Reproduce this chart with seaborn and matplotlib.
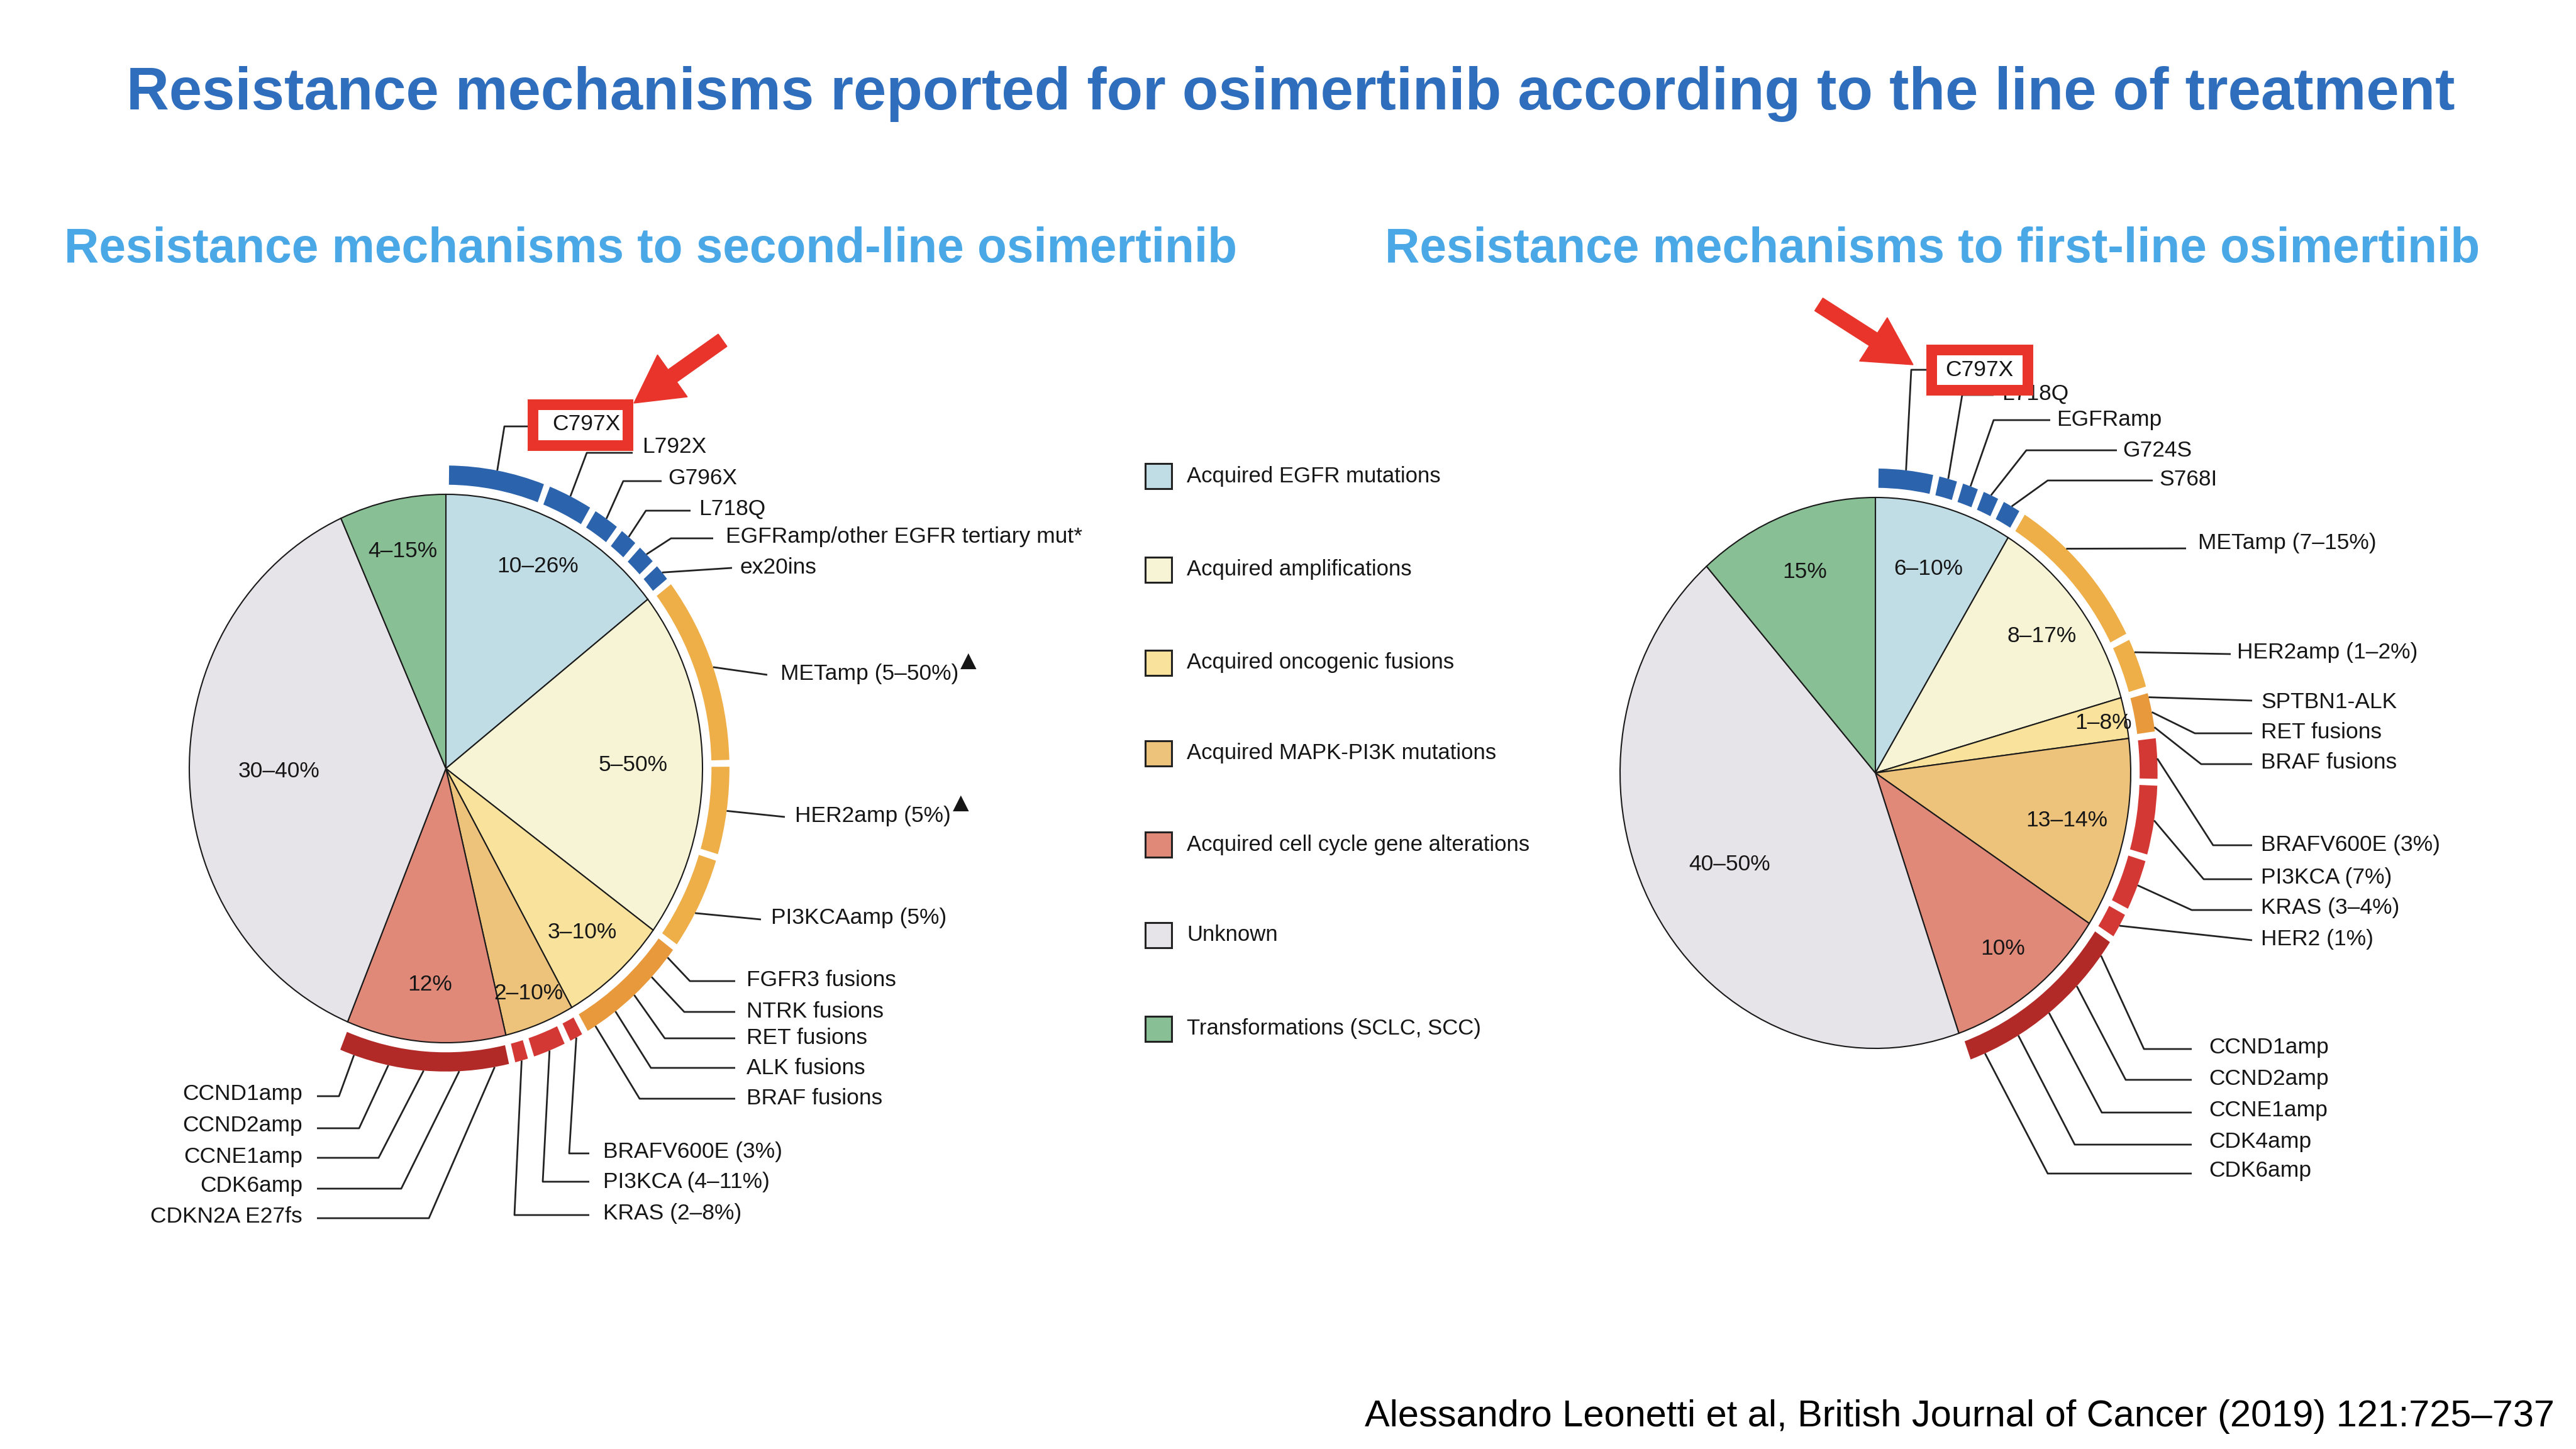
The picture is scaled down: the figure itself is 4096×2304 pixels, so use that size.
import numpy as np
import matplotlib
matplotlib.use("Agg")
import matplotlib.pyplot as plt
from matplotlib.patches import Wedge, Rectangle, FancyArrow
import seaborn as sns

sns.set_theme(style="white")
plt.rcParams["font.family"] = ["Liberation Sans", "DejaVu Sans"]

# %% data
categories = ["Acquired EGFR mutations", "Acquired amplifications", "Acquired oncogenic fusions",
              "Acquired MAPK-PI3K mutations", "Acquired cell cycle gene alterations", "Unknown",
              "Transformations (SCLC, SCC)"]

# slice sizes (share of the circle, %)
second_sizes = [14.4, 20.6, 6.8, 4.4, 10.0, 37.0, 6.7]
first_sizes = [8.7, 11.9, 2.4, 11.2, 10.5, 43.8, 11.5]
second_pct = ["10–26%", "5–50%", "3–10%", "2–10%", "12%", "30–40%", "4–15%"]
first_pct = ["6–10%", "8–17%", "1–8%", "13–14%", "10%", "40–50%", "15%"]

# outer ring, sub-mechanisms inside each category (relative arc length)
second_egfr = ["C797X", "L792X", "G796X", "L718Q", "EGFRamp/other EGFR tertiary mut*", "ex20ins"]
second_egfr_w = [20.8, 10.3, 6.5, 4.8, 4.9, 4.4]
second_amp = ["METamp (5–50%)", "HER2amp (5%)", "PI3KCAamp (5%)"]
second_amp_w = [37, 18, 19]
second_fus = ["FGFR3 fusions", "NTRK fusions", "RET fusions", "ALK fusions", "BRAF fusions"]
second_mapk = ["BRAFV600E (3%)", "PI3KCA (4–11%)", "KRAS (2–8%)"]
second_mapk_w = [4, 8, 4]
second_cell = ["CDKN2A E27fs", "CDK6amp", "CCNE1amp", "CCND2amp", "CCND1amp"]

first_egfr = ["C797X", "L718Q", "EGFRamp", "G724S", "S768I"]
first_egfr_w = [12.5, 5, 4.5, 4.5, 4.9]
first_amp = ["METamp (7–15%)", "HER2amp (1–2%)"]
first_amp_w = [32, 10.7]
first_fus = ["SPTBN1-ALK", "RET fusions", "BRAF fusions"]
first_mapk = ["BRAFV600E (3%)", "PI3KCA (7%)", "KRAS (3–4%)", "HER2 (1%)"]
first_mapk_w = [9, 14.5, 11, 6]
first_cell = ["CCND1amp", "CCND2amp", "CCNE1amp", "CDK4amp", "CDK6amp"]

slice_colors = ["#c0dce5", "#f7f3d5", "#f8e29c", "#edc27b", "#e08979", "#e6e4e8", "#88bf95"]
ring_colors = ["#2b63ac", "#eeae48", "#e8993b", "#d43834", "#b22a28"]

W, H = 4096, 2304
R_IN, R_OUT = 1.035, 1.105
GAP = 1.3
LIM = 1.3
FS = 25.5
TXT = "#161616"

fig = plt.figure(figsize=(W / 100, H / 100), dpi=100)


def draw_pie(cx, cy, rx, ry, sizes, pct, pct_r, rings):
    ax = fig.add_axes([(cx - LIM * rx) / W, 1 - (cy + LIM * ry) / H, 2 * LIM * rx / W, 2 * LIM * ry / H])
    ax.pie(sizes, colors=slice_colors, startangle=90, counterclock=False,
           wedgeprops=dict(edgecolor="#1a1a1a", linewidth=1.5))
    ax.set_xlim(-LIM, LIM)
    ax.set_ylim(-LIM, LIM)
    ax.set_aspect("auto")
    ax.axis("off")
    bounds = np.concatenate([[0], np.cumsum(sizes)]) / sum(sizes) * 360
    for i, lab in enumerate(pct):
        mid = np.deg2rad((bounds[i] + bounds[i + 1]) / 2)
        ax.text(pct_r[i] * np.sin(mid), pct_r[i] * np.cos(mid), lab, ha="center", va="center",
                fontsize=FS, color=TXT)
    spans = {}
    for i, (names, weights, joined) in enumerate(rings):
        a0, a1 = bounds[i], bounds[i + 1]
        w = np.asarray(weights, float)
        edges = a0 + np.concatenate([[0], np.cumsum(w)]) / w.sum() * (a1 - a0)
        segs = [(a0, a1)] if joined else list(zip(edges[:-1], edges[1:]))
        for s0, s1 in segs:
            ax.add_patch(Wedge((0, 0), R_OUT, 90 - (s1 - GAP / 2), 90 - (s0 + GAP / 2),
                               width=R_OUT - R_IN, facecolor=ring_colors[i], edgecolor="none"))
        for k, name in enumerate(names):
            spans[name] = (edges[k], edges[k + 1])
    return spans


def draw_leaders(ov, spans, layout, cx, cy, rx, ry):
    texts = {}
    for name, (frac, pts, txy, ha) in layout.items():
        s0, s1 = spans[name]
        a = np.deg2rad(s0 + frac * (s1 - s0))
        start = (cx + R_OUT * rx * np.sin(a), cy - R_OUT * ry * np.cos(a))
        xs, ys = zip(*([start] + pts))
        ov.plot(xs, ys, color="#222222", lw=2.0, solid_capstyle="butt", zorder=2)
        texts[name] = ov.text(txy[0], txy[1], name, ha=ha, va="center", fontsize=FS, color=TXT, zorder=3)
    return texts


# %% pies
L_CX, L_CY, L_RX, L_RY = 709, 1222, 408, 436
R_CX, R_CY, R_RX, R_RY = 2982, 1229, 406, 438

left_spans = draw_pie(L_CX, L_CY, L_RX, L_RY, second_sizes, second_pct,
                      [0.82, 0.73, 0.80, 0.88, 0.79, 0.65, 0.81],
                      [(second_egfr, second_egfr_w, False), (second_amp, second_amp_w, False),
                       (second_fus, [1] * 5, True), (second_mapk, second_mapk_w, False),
                       (second_cell, [1] * 5, True)])
right_spans = draw_pie(R_CX, R_CY, R_RX, R_RY, first_sizes, first_pct,
                       [0.77, 0.82, 0.91, 0.77, 0.81, 0.66, 0.78],
                       [(first_egfr, first_egfr_w, False), (first_amp, first_amp_w, False),
                        (first_fus, [1] * 3, True), (first_mapk, first_mapk_w, False),
                        (first_cell, [1] * 5, True)])

ov = fig.add_axes([0, 0, 1, 1])
ov.set_xlim(0, W)
ov.set_ylim(H, 0)
ov.axis("off")
ov.patch.set_alpha(0)

left_layout = {
    "C797X": (0.5, [(802, 678), (858, 678)], (878, 675), "left"),
    "L792X": (0.5, [(933, 720), (1006, 720)], (1021, 710), "left"),
    "G796X": (0.5, [(991, 765), (1052, 765)], (1062, 760), "left"),
    "L718Q": (0.5, [(1027, 812), (1098, 812)], (1111, 809), "left"),
    "EGFRamp/other EGFR tertiary mut*": (0.5, [(1067, 856), (1134, 856)], (1154, 854), "left"),
    "ex20ins": (0.5, [(1164, 903)], (1177, 903), "left"),
    "METamp (5–50%)": (0.5, [(1220, 1073)], (1241, 1071), "left"),
    "HER2amp (5%)": (0.5, [(1248, 1299)], (1264, 1297), "left"),
    "PI3KCAamp (5%)": (0.6, [(1210, 1462)], (1226, 1460), "left"),
    "FGFR3 fusions": (0.5, [(1097, 1560), (1169, 1560)], (1187, 1558), "left"),
    "NTRK fusions": (0.5, [(1088, 1609), (1169, 1609)], (1187, 1608), "left"),
    "RET fusions": (0.5, [(1057, 1651), (1169, 1651)], (1187, 1650), "left"),
    "ALK fusions": (0.5, [(1035, 1698), (1169, 1698)], (1187, 1698), "left"),
    "BRAF fusions": (0.5, [(1017, 1747), (1169, 1747)], (1187, 1746), "left"),
    "BRAFV600E (3%)": (0.5, [(905, 1834), (937, 1834)], (959, 1832), "left"),
    "PI3KCA (4–11%)": (0.5, [(863, 1879), (937, 1879)], (959, 1879), "left"),
    "KRAS (2–8%)": (0.5, [(818, 1932), (937, 1932)], (959, 1930), "left"),
    "CDKN2A E27fs": (0.5, [(682, 1937), (504, 1937)], (481, 1935), "right"),
    "CDK6amp": (0.5, [(638, 1890), (504, 1890)], (481, 1886), "right"),
    "CCNE1amp": (0.5, [(602, 1841), (504, 1841)], (481, 1839), "right"),
    "CCND2amp": (0.5, [(571, 1794), (504, 1794)], (481, 1790), "right"),
    "CCND1amp": (0.5, [(539, 1743), (504, 1743)], (481, 1740), "right"),
}
right_layout = {
    "C797X": (0.5, [(3039, 588), (3065, 588)], (3093, 588), "left"),
    "L718Q": (0.5, [(3120, 628), (3170, 628)], (3183, 626), "left"),
    "EGFRamp": (0.5, [(3170, 668), (3260, 668)], (3270, 668), "left"),
    "G724S": (0.5, [(3222, 716), (3366, 716)], (3375, 716), "left"),
    "S768I": (0.5, [(3256, 764), (3423, 764)], (3433, 763), "left"),
    "METamp (7–15%)": (0.35, [(3476, 872)], (3495, 863), "left"),
    "HER2amp (1–2%)": (0.3, [(3547, 1040)], (3557, 1038), "left"),
    "SPTBN1-ALK": (0.5, [(3581, 1114)], (3595, 1116), "left"),
    "RET fusions": (0.5, [(3490, 1166), (3581, 1166)], (3595, 1165), "left"),
    "BRAF fusions": (0.5, [(3500, 1215), (3581, 1215)], (3595, 1213), "left"),
    "BRAFV600E (3%)": (0.5, [(3519, 1344), (3581, 1344)], (3595, 1344), "left"),
    "PI3KCA (7%)": (0.5, [(3504, 1398), (3581, 1398)], (3595, 1396), "left"),
    "KRAS (3–4%)": (0.5, [(3485, 1447), (3581, 1447)], (3595, 1444), "left"),
    "HER2 (1%)": (0.5, [(3581, 1495)], (3595, 1493), "left"),
    "CCND1amp": (0.5, [(3409, 1668), (3485, 1668)], (3512, 1665), "left"),
    "CCND2amp": (0.5, [(3380, 1717), (3485, 1717)], (3512, 1715), "left"),
    "CCNE1amp": (0.5, [(3342, 1769), (3485, 1769)], (3512, 1765), "left"),
    "CDK4amp": (0.5, [(3299, 1820), (3485, 1820)], (3512, 1815), "left"),
    "CDK6amp": (0.5, [(3256, 1866), (3485, 1866)], (3512, 1861), "left"),
}

lt = draw_leaders(ov, left_spans, left_layout, L_CX, L_CY, L_RX, L_RY)
rt = draw_leaders(ov, right_spans, right_layout, R_CX, R_CY, R_RX, R_RY)

for t in [lt["METamp (5–50%)"], lt["HER2amp (5%)"]]:
    ov.annotate("▲", xy=(1, 1), xycoords=t, xytext=(2, 3), textcoords="offset points",
                fontsize=24, color=TXT, ha="left", va="center", family=["DejaVu Sans"])

# red highlight boxes + arrows
red = "#e8342a"
ov.add_patch(Rectangle((846.5, 642.5), 151, 65, facecolor="white", edgecolor=red, lw=12.2, zorder=4))
ov.add_patch(Rectangle((3070.5, 555.5), 153, 64, facecolor="white", edgecolor=red, lw=12.2, zorder=4))
lt["C797X"].set_zorder(5)
rt["C797X"].set_zorder(5)
ov.add_patch(FancyArrow(1149, 541, -141, 100, width=24, head_width=82, head_length=75,
                        length_includes_head=True, color=red, zorder=6))
ov.add_patch(FancyArrow(2892, 484, 150, 96, width=24, head_width=82, head_length=75,
                        length_includes_head=True, color=red, zorder=6))

# legend
legend_y = [757, 906, 1054, 1198, 1343, 1487, 1636]
for name, col, y in zip(categories, slice_colors, legend_y):
    ov.add_patch(Rectangle((1821, y - 20), 42, 40, facecolor=col, edgecolor="#222222", lw=2.2))
    ov.text(1887, y, name, ha="left", va="center", fontsize=25, color=TXT)

# titles
ov.text(2052, 149, "Resistance mechanisms reported for osimertinib according to the line of treatment",
        ha="center", va="center", fontsize=67.8, fontweight="bold", color="#2e6ebd")
ov.text(1034, 397, "Resistance mechanisms to second-line osimertinib", ha="center", va="center",
        fontsize=55.2, fontweight="bold", color="#4ba8e6")
ov.text(3073, 397, "Resistance mechanisms to first-line osimertinib", ha="center", va="center",
        fontsize=55.2, fontweight="bold", color="#4ba8e6")
ov.text(4062, 2252, "Alessandro Leonetti et al, British Journal of Cancer (2019) 121:725–737",
        ha="right", va="center", fontsize=42.8, color="black")

fig.savefig("out.png", dpi=100, facecolor="white")
